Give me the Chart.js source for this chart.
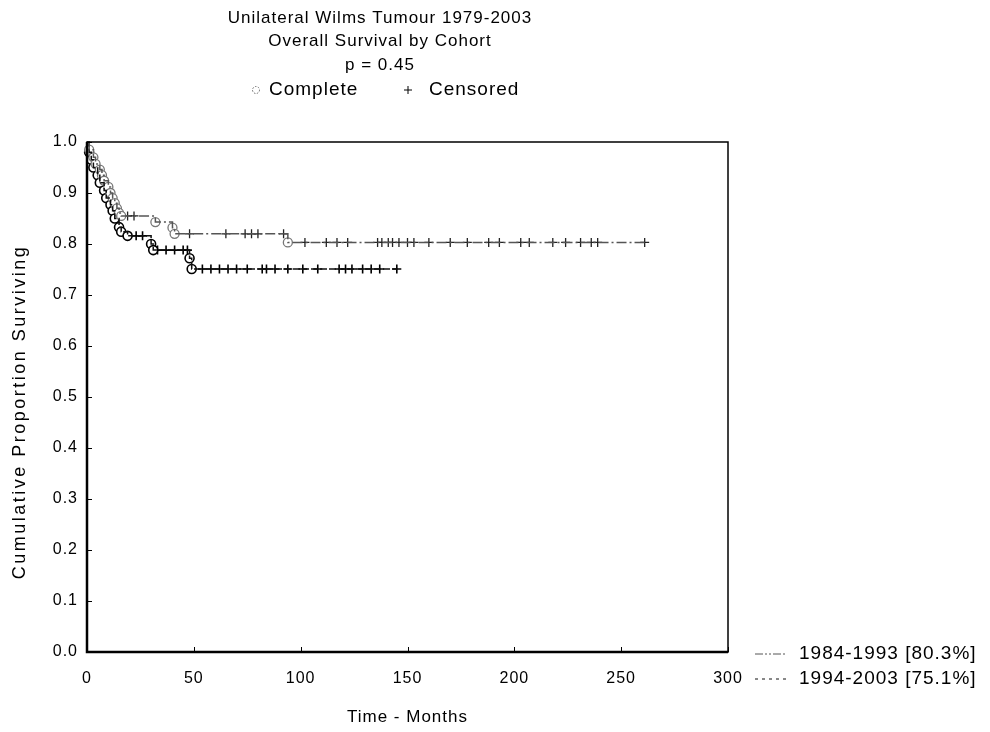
<!DOCTYPE html>
<html>
<head>
<meta charset="utf-8">
<title>Overall Survival by Cohort</title>
<script src="https://cdn.jsdelivr.net/npm/chart.js@4.4.0/dist/chart.umd.min.js"></script>
<style>
  html, body { margin: 0; padding: 0; background: #fff; }
  #wrap { width: 990px; height: 732px; }
</style>
</head>
<body>
<div id="wrap"><canvas id="survChart" width="990" height="732"></canvas></div>
<script>
// titles and labels
const titleLines = ['Unilateral Wilms Tumour 1979-2003', 'Overall Survival by Cohort', 'p = 0.45'];
const keyLabels = ['Complete', 'Censored'];
const cohortLabels = ['1984-1993 [80.3%]', '1994-2003 [75.1%]'];
const xTitle = 'Time - Months';
const yTitle = 'Cumulative Proportion Surviving';

// 1984-1993 cohort: event times (months) and survival after each event
const earlyTimes = [0, 1, 3, 4, 6, 7, 8, 10, 11, 12, 13, 14, 15, 16, 32, 40, 41, 94];
const earlySurv = [1.0, 0.985, 0.97, 0.957, 0.946, 0.935, 0.924, 0.912, 0.90, 0.89, 0.88, 0.87, 0.861, 0.855, 0.843, 0.832, 0.82, 0.803];
const earlyCensored = [19, 22, 48, 65, 74, 77, 80, 92, 102, 112, 117, 122, 136, 138, 141, 143, 146, 150, 153, 160, 170, 178, 188, 193, 203, 207, 218, 224, 231, 236, 239, 261];

// 1994-2003 cohort
const lateTimes = [0, 1, 2, 3, 5, 6, 8, 9, 11, 12, 13, 15, 16, 19, 30, 31, 48, 49];
const lateSurv = [1.0, 0.98, 0.965, 0.95, 0.935, 0.92, 0.905, 0.89, 0.877, 0.865, 0.85, 0.833, 0.824, 0.816, 0.80, 0.788, 0.772, 0.751];
const lateCensored = [23, 26, 33, 37, 41, 45, 47, 54, 58, 62, 66, 70, 75, 82, 84, 88, 94, 101, 108, 118, 121, 124, 129, 133, 137, 145];

// survival level of a step curve at time t
function survAt(times, surv, t) {
    let s = surv[0];
    for (let i = 0; i < times.length; i++) {
        if (times[i] <= t) s = surv[i];
    }
    return s;
}

function stepLine(times, surv, censored) {
    const pts = times.map((t, i) => ({ x: t, y: surv[i] }));
    const last = censored[censored.length - 1];
    pts.push({ x: last, y: surv[surv.length - 1] });
    return pts;
}

function eventPoints(times, surv) {
    return times.slice(1).map((t, i) => ({ x: t, y: surv[i + 1] }));
}

function censorPoints(times, surv, censored) {
    return censored.map(t => ({ x: t, y: survAt(times, surv, t) }));
}

const earlyColor = '#555';
const lateColor = '#111';
const earlyDash = [10, 3, 2, 3];
const lateDash = [7, 2];
const font = "'Liberation Sans', Arial, sans-serif";

// the original uses a widely spaced screen font
const wideText = {
    id: 'wideText',
    beforeUpdate(chart) { chart.ctx.letterSpacing = '1px'; },
    beforeDraw(chart) { chart.ctx.letterSpacing = '1px'; }
};

const headerText = {
    id: 'headerText',
    afterDraw(chart) {
        const ctx = chart.ctx;
        ctx.save();
        ctx.fillStyle = '#000';
        ctx.font = '17px ' + font;
        ctx.textAlign = 'center';
        ctx.textBaseline = 'middle';
        titleLines.forEach((line, i) => ctx.fillText(line, 380, 18 + i * 23.5));

        // symbol key
        const ky = 90;
        ctx.font = '19px ' + font;
        ctx.textAlign = 'left';
        ctx.strokeStyle = '#666';
        ctx.lineWidth = 1;
        ctx.setLineDash([1.5, 1.5]);
        ctx.beginPath();
        ctx.arc(256, ky, 3.5, 0, Math.PI * 2);
        ctx.stroke();
        ctx.setLineDash([]);
        ctx.fillText(keyLabels[0], 269, ky);
        ctx.strokeStyle = '#000';
        ctx.beginPath();
        ctx.moveTo(404, ky); ctx.lineTo(412, ky);
        ctx.moveTo(408, ky - 4); ctx.lineTo(408, ky + 4);
        ctx.stroke();
        ctx.fillText(keyLabels[1], 429, ky);

        // y axis title, drawn here to get the wide spacing of the original
        ctx.save();
        ctx.font = '18px ' + font;
        ctx.letterSpacing = '2.5px';
        ctx.textAlign = 'center';
        ctx.translate(20, 412);
        ctx.rotate(-Math.PI / 2);
        ctx.fillText(yTitle, 0, 0);
        ctx.restore();
        ctx.restore();
    }
};

const cohortLegend = {
    id: 'cohortLegend',
    afterDraw(chart) {
        const ctx = chart.ctx;
        const area = chart.chartArea;
        const x0 = area.right + 27;
        const rows = [
            { y: area.bottom + 2, color: earlyColor, dash: [8, 2, 2, 2, 2, 2] },
            { y: area.bottom + 27, color: lateColor, dash: [3, 4] }
        ];
        ctx.save();
        ctx.font = '19px ' + font;
        ctx.textBaseline = 'middle';
        ctx.fillStyle = '#000';
        rows.forEach((r, i) => {
            ctx.strokeStyle = r.color;
            ctx.lineWidth = 1;
            ctx.setLineDash(r.dash);
            ctx.beginPath();
            ctx.moveTo(x0, r.y);
            ctx.lineTo(x0 + 32, r.y);
            ctx.stroke();
            ctx.setLineDash([]);
            ctx.fillText(cohortLabels[i], x0 + 44, r.y);
        });
        ctx.restore();
    }
};

// full frame with short inward tick marks
const plotFrame = {
    id: 'plotFrame',
    afterDatasetsDraw(chart) {
        const ctx = chart.ctx;
        const a = chart.chartArea;
        const xs = chart.scales.x, ys = chart.scales.y;
        ctx.save();
        ctx.strokeStyle = '#000';
        ctx.lineWidth = 1.5;
        ctx.strokeRect(a.left, a.top, a.right - a.left, a.bottom - a.top);
        ctx.lineWidth = 2.5;
        ctx.beginPath();
        ctx.moveTo(a.left, a.top);
        ctx.lineTo(a.left, a.bottom);
        ctx.lineTo(a.right, a.bottom);
        ctx.stroke();
        ctx.lineWidth = 1;
        ctx.beginPath();
        ys.ticks.forEach(t => {
            const y = Math.round(ys.getPixelForValue(t.value)) + 0.5;
            ctx.moveTo(a.left, y); ctx.lineTo(a.left + 5, y);
        });
        xs.ticks.forEach(t => {
            const x = Math.round(xs.getPixelForValue(t.value)) + 0.5;
            ctx.moveTo(x, a.bottom); ctx.lineTo(x, a.bottom - 5);
        });
        ctx.stroke();
        ctx.restore();
    }
};

const ctx = document.getElementById('survChart').getContext('2d');
new Chart(ctx, {
    type: 'scatter',
    data: {
        datasets: [
            {
                label: cohortLabels[0],
                type: 'line',
                data: stepLine(earlyTimes, earlySurv, earlyCensored),
                stepped: true,
                borderColor: earlyColor,
                borderWidth: 1.5,
                borderDash: earlyDash,
                pointRadius: 0,
                fill: false,
                clip: false
            },
            {
                label: cohortLabels[1],
                type: 'line',
                data: stepLine(lateTimes, lateSurv, lateCensored),
                stepped: true,
                borderColor: lateColor,
                borderWidth: 1.5,
                borderDash: lateDash,
                pointRadius: 0,
                fill: false,
                clip: false
            },
            {
                label: keyLabels[0] + ' ' + cohortLabels[0],
                data: eventPoints(earlyTimes, earlySurv),
                pointStyle: 'circle',
                pointRadius: 4.5,
                borderColor: '#777',
                backgroundColor: '#fff',
                borderWidth: 1.3,
                clip: false
            },
            {
                label: keyLabels[0] + ' ' + cohortLabels[1],
                data: eventPoints(lateTimes, lateSurv),
                pointStyle: 'circle',
                pointRadius: 4.5,
                borderColor: '#000',
                backgroundColor: '#fff',
                borderWidth: 1.6,
                clip: false
            },
            {
                label: keyLabels[1] + ' ' + cohortLabels[0],
                data: censorPoints(earlyTimes, earlySurv, earlyCensored),
                pointStyle: 'cross',
                pointRadius: 4.5,
                borderColor: '#222',
                borderWidth: 1.3,
                clip: false
            },
            {
                label: keyLabels[1] + ' ' + cohortLabels[1],
                data: censorPoints(lateTimes, lateSurv, lateCensored),
                pointStyle: 'cross',
                pointRadius: 4.5,
                borderColor: '#000',
                borderWidth: 1.6,
                clip: false
            }
        ]
    },
    options: {
        responsive: false,
        animation: false,
        devicePixelRatio: 1,
        layout: { padding: { top: 142, right: 262, left: 0, bottom: 0 } },
        plugins: {
            legend: { display: false },
            title: { display: false },
            tooltip: { enabled: false }
        },
        scales: {
            x: {
                type: 'linear',
                min: 0,
                max: 300,
                afterFit: s => { s.height = 80; },
                grid: { display: false, drawTicks: false },
                border: { display: false },
                ticks: { stepSize: 50, padding: 17, color: '#000', font: { family: font, size: 16 } },
                title: { display: true, text: xTitle, color: '#000', padding: { top: 0, bottom: 4 }, font: { family: font, size: 17 } }
            },
            y: {
                min: 0,
                max: 1,
                afterFit: s => { s.width = 87; },
                grid: { display: false, drawTicks: false },
                border: { display: false },
                ticks: {
                    stepSize: 0.1,
                    padding: 9,
                    color: '#000',
                    font: { family: font, size: 16 },
                    callback: v => v.toFixed(1)
                },
                title: { display: false, text: yTitle }
            }
        }
    },
    plugins: [wideText, headerText, cohortLegend, plotFrame]
});
</script>
</body>
</html>
